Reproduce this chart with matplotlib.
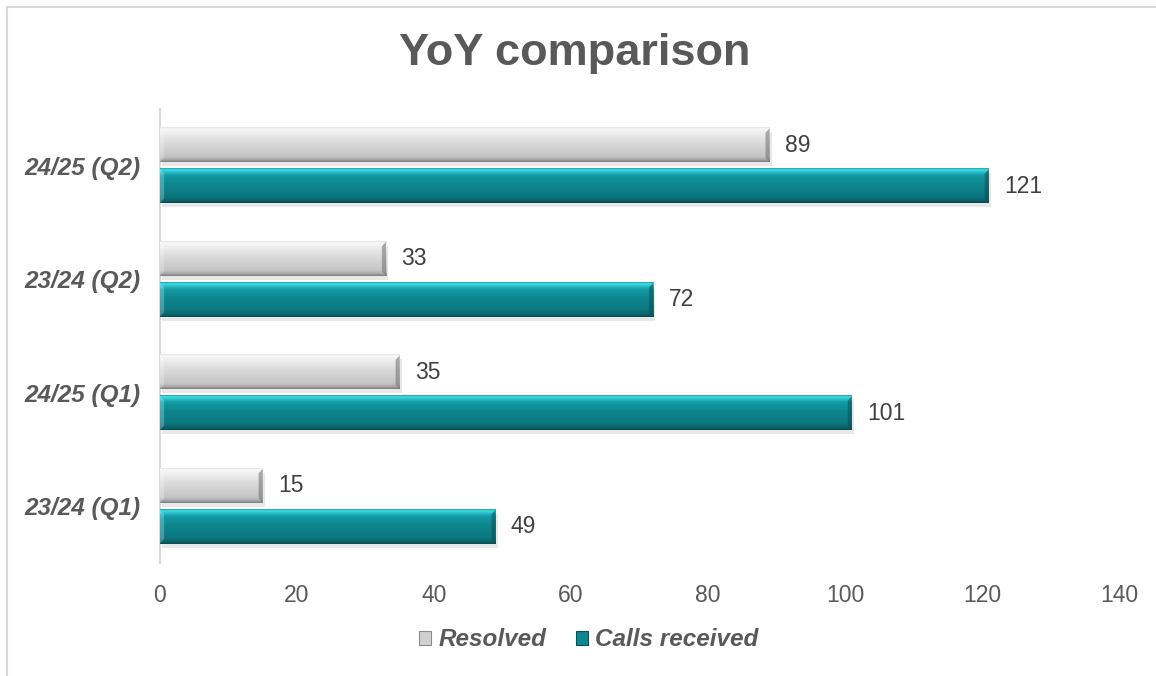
import numpy as np
import matplotlib.pyplot as plt
from matplotlib.colors import LinearSegmentedColormap
from matplotlib.patches import Patch
from matplotlib.lines import Line2D

# data
categories = ["23/24 (Q1)", "24/25 (Q1)", "23/24 (Q2)", "24/25 (Q2)"]
resolved = [15, 35, 33, 89]
calls_received = [49, 101, 72, 121]
x_ticks = [0, 20, 40, 60, 80, 100, 120, 140]

plt.rcParams['font.family'] = ['Liberation Sans', 'DejaVu Sans']
text_col = '#595959'

fig = plt.figure(figsize=(11.56, 6.76), dpi=100)
ax = fig.add_axes([0.1384, 0.1672, 0.8296, 0.6716])

y = np.arange(len(categories))
h = 0.30
bars_r = ax.barh(y + 0.18, resolved, height=h, color='#DCDCDC', zorder=2)
bars_c = ax.barh(y - 0.18, calls_received, height=h, color='#0E8790', zorder=2)

# vertical gradients to imitate the bevel look (0 = bottom, 1 = top)
cmap_gray = LinearSegmentedColormap.from_list('g', [
    (0.0, '#7F7F7F'), (0.06, '#A6A6A6'), (0.15, '#C4C4C4'), (0.55, '#DADADA'),
    (0.85, '#EFEFEF'), (0.95, '#F8F8F8'), (1.0, '#E6E6E6')])
cmap_teal = LinearSegmentedColormap.from_list('t', [
    (0.0, '#0A4B50'), (0.07, '#0B646B'), (0.2, '#0C7880'), (0.55, '#0E8790'),
    (0.8, '#139AA3'), (0.9, '#2CC4CF'), (0.96, '#45DCE6'), (1.0, '#1FA7B0')])
grad = np.linspace(0, 1, 64).reshape(-1, 1)

for bars, cmap, dark in [(bars_r, cmap_gray, '#6E6E6E'), (bars_c, cmap_teal, '#0A4F55')]:
    for p in bars:
        x0, y0, w, hh = p.get_x(), p.get_y(), p.get_width(), p.get_height()
        # soft shadow under the bar
        ax.add_patch(plt.Rectangle((x0 + 0.3, y0 - 0.035), w, hh, color='#BFBFBF',
                                   alpha=0.35, lw=0, zorder=1))
        ax.imshow(grad, cmap=cmap, extent=[x0, x0 + w, y0, y0 + hh], aspect='auto',
                  origin='lower', zorder=3, interpolation='bilinear')
        # darker right end bevel
        ax.fill([x0 + w - 0.6, x0 + w, x0 + w, x0 + w - 0.6],
                [y0 + 0.04, y0, y0 + hh, y0 + hh - 0.04], color=dark, alpha=0.55, lw=0, zorder=4)
        # lighter left end bevel
        ax.fill([x0, x0 + 0.6, x0 + 0.6, x0],
                [y0, y0 + 0.04, y0 + hh - 0.04, y0 + hh], color='white', alpha=0.25, lw=0, zorder=4)

ax.bar_label(bars_r, padding=11, fontsize=16.5, color='#404040')
ax.bar_label(bars_c, padding=11, fontsize=16.5, color='#404040')

ax.set_xlim(0, 140)
ax.set_ylim(-0.5, len(categories) - 0.5)
ax.set_xticks(x_ticks)
ax.set_xticklabels([str(t) for t in x_ticks])
ax.set_yticks(y)
ax.set_yticklabels(categories, fontsize=17.5, fontweight='bold', fontstyle='italic', color=text_col)
ax.tick_params(axis='x', length=0, pad=15, labelsize=16.5, labelcolor=text_col)
ax.tick_params(axis='y', length=0, pad=14)
for s in ['top', 'right', 'bottom']:
    ax.spines[s].set_visible(False)
ax.spines['left'].set_color('#D9D9D9')
ax.spines['left'].set_linewidth(1.5)

fig.text(0.497, 1 - 54 / 676, 'YoY comparison', fontsize=32.5, fontweight='bold',
         color=text_col, ha='center', va='center')

handles = [Patch(facecolor='#D0D0D0', edgecolor='#8C8C8C', lw=0.8),
           Patch(facecolor='#0E8790', edgecolor='#0A4F55', lw=0.8)]
fig.legend(handles, ['Resolved', 'Calls received'], loc='center',
           bbox_to_anchor=(589 / 1156, 1 - 640 / 676), ncol=2, frameon=False,
           handlelength=0.5, handleheight=0.5, handletextpad=0.3, columnspacing=1.2,
           prop={'size': 17.5, 'weight': 'bold', 'style': 'italic'}, labelcolor=text_col)

# outer chart border (top and left visible)
fig.add_artist(Line2D([7 / 1156, 7 / 1156], [0, 1 - 7 / 676], color='#D9D9D9', lw=1.5))
fig.add_artist(Line2D([7 / 1156, 1], [1 - 7 / 676, 1 - 7 / 676], color='#D9D9D9', lw=1.5))

fig.savefig('out.png', dpi=100)
